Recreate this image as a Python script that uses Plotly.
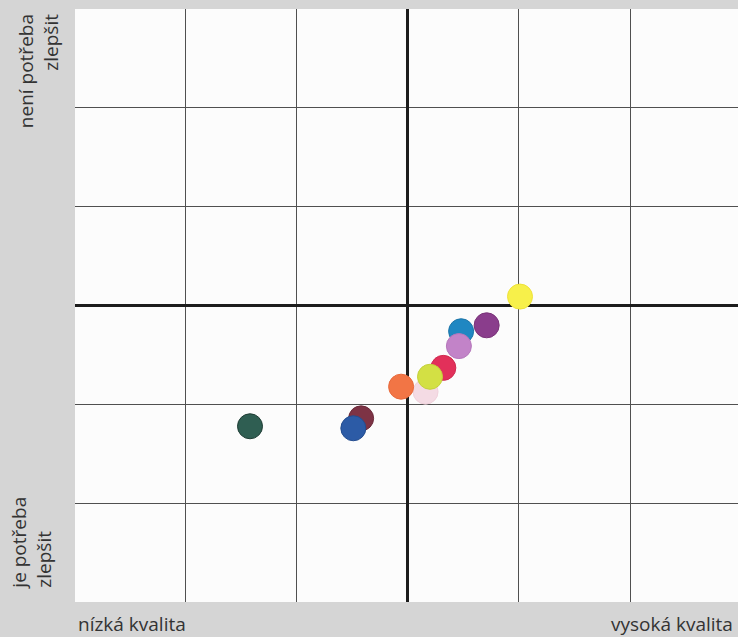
import plotly.graph_objects as go

# Data (axes are unitless -3..3 quadrant scale)
point_x = [-1.42, -0.42, -0.49, 0.48, 0.71, 1.01, 0.32, 0.16, 0.46, -0.06, 0.20]
point_y = [-1.22, -1.14, -1.24, -0.26, -0.20, 0.09, -0.63, -0.87, -0.41, -0.82, -0.72]
point_colors = ["#2f5e52", "#7d3345", "#2c5ba6", "#1f87c2", "#8a3d8c", "#f7f04a",
                "#e2305a", "#f4dbe4", "#c283c8", "#f27545", "#d3e044"]
point_lines = ["#1f3d35", "#6b2a3a", "#244d8f", "#1b75a8", "#7a3379", "#eee23a",
               "#cf2a50", "#f0d2dc", "#b577bb", "#e86a3c", "#c4d13b"]

label_top = "není potřeba<br>zlepšit"
label_bottom = "je potřeba<br>zlepšit"
label_low = "nízká kvalita"
label_high = "vysoká kvalita"

FONT = "Open Sans"
TXT = "#333333"
BG = "#d5d5d5"

fig = go.Figure()
fig.add_trace(go.Scatter(
    x=point_x, y=point_y, mode="markers",
    marker=dict(size=25, color=point_colors, opacity=1,
                line=dict(color=point_lines, width=1)),
    hoverinfo="skip", showlegend=False,
))

axis_common = dict(
    dtick=1, tick0=0, showticklabels=False, ticks="",
    showgrid=True, gridcolor="#505050", gridwidth=1,
    zeroline=True, zerolinecolor="#1c1c1c", zerolinewidth=2.6,
    showline=False, fixedrange=True,
)
fig.update_xaxes(range=[-2.995, 2.972], **axis_common)
fig.update_yaxes(range=[-2.995, 2.995], **axis_common)

ann_font = dict(family=FONT, size=19, color=TXT)
fig.add_annotation(text=label_top, xref="paper", yref="paper",
                   x=-0.054, y=0.995, xanchor="center", yanchor="top",
                   textangle=-90, align="right", showarrow=False, font=ann_font)
fig.add_annotation(text=label_bottom, xref="paper", yref="paper",
                   x=-0.066, y=0.017, xanchor="center", yanchor="bottom",
                   textangle=-90, align="left", showarrow=False, font=ann_font)
fig.add_annotation(text=label_low, xref="paper", yref="paper",
                   x=0.002, y=-0.037, xanchor="left", yanchor="middle",
                   showarrow=False, font=ann_font)
fig.add_annotation(text=label_high, xref="paper", yref="paper",
                   x=0.996, y=-0.037, xanchor="right", yanchor="middle",
                   showarrow=False, font=ann_font)

fig.update_layout(
    width=738, height=637,
    margin=dict(l=75, r=0, t=9, b=35),
    paper_bgcolor=BG, plot_bgcolor="#fcfcfc",
    font=dict(family=FONT, color=TXT),
)

fig.write_html(
    "out.html",
    config={"displayModeBar": False, "staticPlot": True},
    post_script=("document.body.style.margin='0';"
                 "document.body.style.overflow='hidden';"
                 "document.body.style.background='" + BG + "';"),
)
